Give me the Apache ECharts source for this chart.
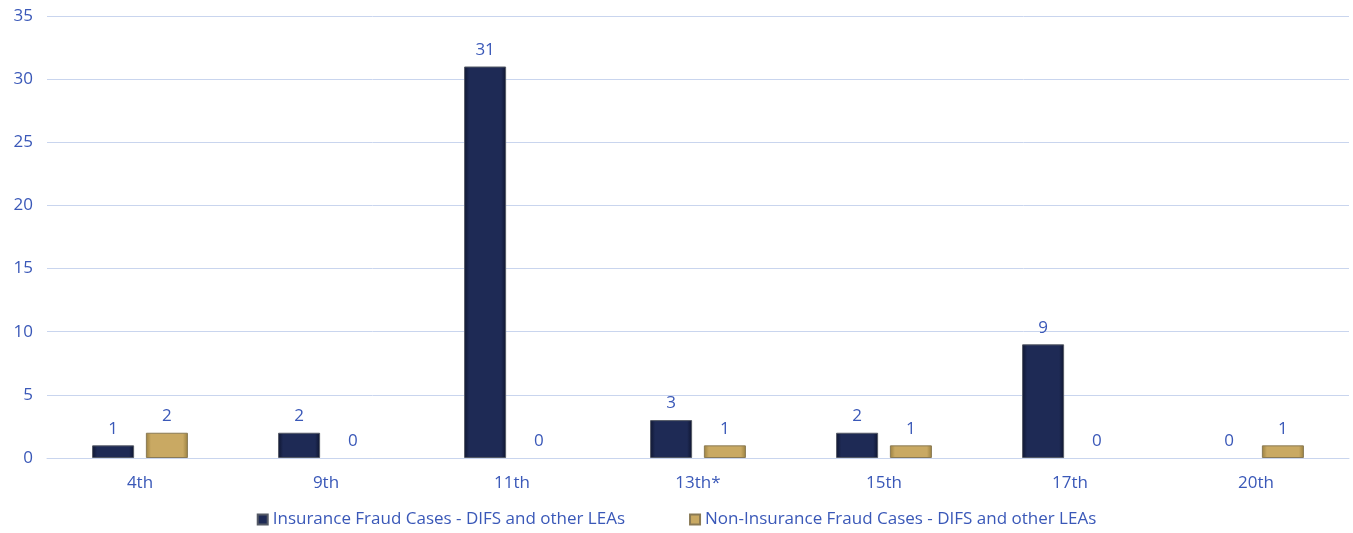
<!DOCTYPE html>
<html>
<head>
<meta charset="utf-8">
<script src="https://cdn.jsdelivr.net/npm/echarts@6/dist/echarts.min.js"></script>
<style>
  html, body { margin: 0; padding: 0; background: #fff; }
  #main { width: 1353px; height: 533px; }
</style>
</head>
<body>
<div id="main"></div>
<script>
var categories = ['4th', '9th', '11th', '13th*', '15th', '17th', '20th'];
var insuranceCases = [1, 2, 31, 3, 2, 9, 0];
var nonInsuranceCases = [2, 0, 0, 1, 1, 0, 1];
var seriesNames = ['Insurance Fraud Cases - DIFS and other LEAs', 'Non-Insurance Fraud Cases - DIFS and other LEAs'];

var chart = echarts.init(document.getElementById('main'));
var textBlue = '#3a58b8';
var font = 'Open Sans';

function bevel(edge, mid) {
    return new echarts.graphic.LinearGradient(0, 0, 1, 0, [
        { offset: 0, color: edge },
        { offset: 0.12, color: mid },
        { offset: 0.88, color: mid },
        { offset: 1, color: edge }
    ]);
}

// zero values: no visible bar on the axis, label still shown
function noZeroBorder(arr) {
    return arr.map(function (v) {
        return v === 0 ? { value: v, itemStyle: { borderWidth: 0, color: 'rgba(0,0,0,0)' } } : v;
    });
}

var option = {
    animation: false,
    grid: { left: 47, right: 4, top: 16, bottom: 75 },
    legend: {
        bottom: 0,
        itemWidth: 10,
        itemHeight: 10,
        itemGap: 64,
        icon: 'rect',
        textStyle: { color: textBlue, fontSize: 17, fontFamily: font },
        data: seriesNames
    },
    xAxis: {
        type: 'category',
        data: categories,
        axisLine: { lineStyle: { color: '#c9d5ee' } },
        axisTick: { show: false },
        axisLabel: { color: textBlue, fontSize: 17, fontFamily: font, margin: 17 }
    },
    yAxis: {
        type: 'value',
        min: 0,
        max: 35,
        interval: 5,
        splitLine: { lineStyle: { color: '#c9d5ee' } },
        axisLabel: { color: textBlue, fontSize: 17, fontFamily: font, margin: 14 }
    },
    series: [
        {
            name: seriesNames[0],
            type: 'bar',
            data: noZeroBorder(insuranceCases),
            barWidth: '22.6%',
            barGap: '28%',
            itemStyle: {
                color: bevel('#0e1530', '#1e2a55'),
                borderColor: '#555a66',
                borderWidth: 1
            },
            label: { show: true, position: 'top', color: textBlue, fontSize: 17, fontFamily: font, distance: 8 }
        },
        {
            name: seriesNames[1],
            type: 'bar',
            data: noZeroBorder(nonInsuranceCases),
            barWidth: '22.6%',
            itemStyle: {
                color: bevel('#9a8040', '#c9a963'),
                borderColor: '#8a7a55',
                borderWidth: 1
            },
            label: { show: true, position: 'top', color: textBlue, fontSize: 17, fontFamily: font, distance: 8 }
        }
    ]
};
chart.setOption(option);
</script>
</body>
</html>
